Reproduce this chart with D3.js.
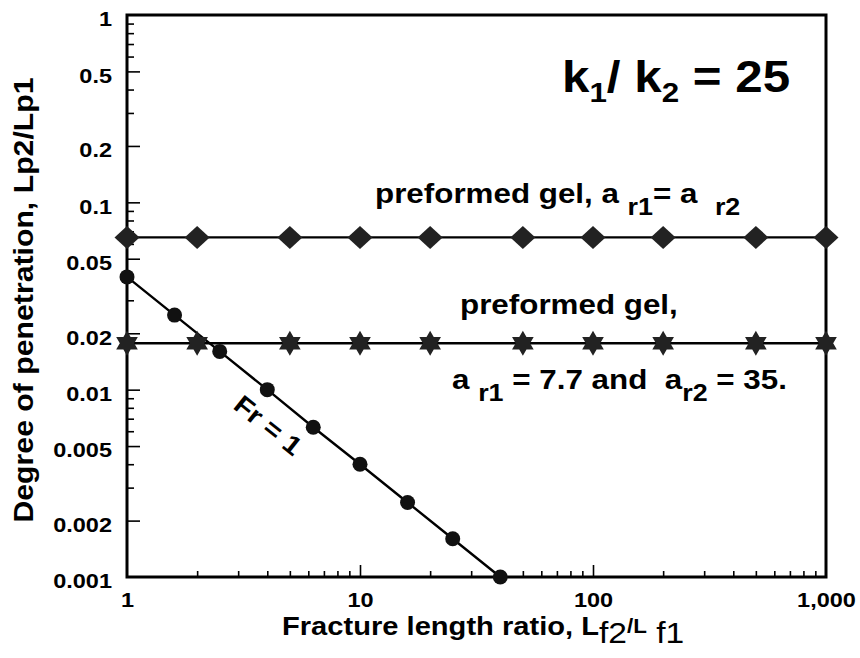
<!DOCTYPE html>
<html>
<head>
<meta charset="utf-8">
<script src="https://cdn.jsdelivr.net/npm/d3@7"></script>
<style>
  body { margin: 0; background: #fff; }
  svg { display: block; }
  text { font-family: "Liberation Sans", Arial, Helvetica, sans-serif; font-weight: bold; fill: #000; white-space: pre; }
</style>
</head>
<body>
<svg id="chart" width="860" height="658"></svg>
<script>
// Fracture length ratio for the preformed-gel cases
const gelRatios = [1, 2, 5, 10, 20, 50, 100, 200, 500, 1000];
// Degree of penetration, preformed gel with equal resistance factors
const gelEqualPen = [0.065, 0.065, 0.065, 0.065, 0.065, 0.065, 0.065, 0.065, 0.065, 0.065];
// Degree of penetration, preformed gel with a_r1 = 7.7 and a_r2 = 35
const gelUnequalPen = [0.0177, 0.0177, 0.0177, 0.0177, 0.0177, 0.0177, 0.0177, 0.0177, 0.0177, 0.0177];
// Fr = 1 case
const frRatios = [1, 1.6, 2.5, 4, 6.3, 10, 16, 25, 40];
const frPen = [0.04, 0.025, 0.016, 0.01, 0.0063, 0.004, 0.0025, 0.0016, 0.001];
// Axis tick labels
const yTickLabels = [1, 0.5, 0.2, 0.1, 0.05, 0.02, 0.01, 0.005, 0.002, 0.001];
const xTickLabels = [1, 10, 100, 1000];

const S = 1.12;            // horizontal text stretch
const svg = d3.select("#chart");
const box = { left: 127, right: 826, top: 15, bottom: 577 };

const x = d3.scaleLog().domain([1, 1000]).range([box.left, box.right]);
const y = d3.scaleLog().domain([0.001, 1]).range([box.bottom, box.top]);

// minor tick values on each decade
const key = v => +v.toPrecision(3);
const yLabelSet = new Set(yTickLabels.map(key));
const yMinor = [];
for (let k = -3; k <= -1; k++) for (let n = 1; n <= 9; n++) {
  const v = key(n * Math.pow(10, k));
  if (!yLabelSet.has(v)) yMinor.push(v);
}
const xMinor = [];
for (let k = 0; k <= 2; k++) for (let n = 2; n <= 9; n++) xMinor.push(key(n * Math.pow(10, k)));

// ---- inward tick marks ----
function ticks(axis, transform) {
  const g = svg.append("g").attr("transform", transform).call(axis);
  g.select(".domain").remove();
  g.selectAll("line").attr("stroke", "#000").attr("stroke-width", 1.6);
  g.selectAll("text").remove();
}
ticks(d3.axisRight(y).tickValues(yTickLabels.filter(v => v < 1 && v > 0.001)).tickSize(13), `translate(${box.left},0)`);
ticks(d3.axisRight(y).tickValues(yMinor).tickSize(7), `translate(${box.left},0)`);
ticks(d3.axisTop(x).tickValues([10, 100]).tickSize(12), `translate(0,${box.bottom})`);
ticks(d3.axisTop(x).tickValues(xMinor).tickSize(6), `translate(0,${box.bottom})`);

// ---- tick labels ----
const yl = svg.append("g").attr("transform", `translate(${box.left},0)`)
  .call(d3.axisLeft(y).tickValues(yTickLabels).tickSize(0).tickFormat(d => String(d)));
yl.select(".domain").remove();
yl.attr("font-family", null).attr("font-size", null);
yl.selectAll("text")
  .attr("x", -15 / S).attr("dy", "0.52em")
  .attr("transform", `scale(${S},1)`)
  .style("font-size", "21px");

const xl = svg.append("g").attr("transform", `translate(0,${box.bottom})`)
  .call(d3.axisBottom(x).tickValues(xTickLabels).tickSize(0).tickFormat(d3.format(",")));
xl.select(".domain").remove();
xl.attr("font-family", null).attr("font-size", null);
xl.selectAll("text")
  .attr("x", 0).attr("y", 15).attr("dy", "0.71em")
  .attr("transform", `scale(${S},1)`)
  .style("font-size", "21px");

// ---- frame ----
svg.append("rect")
  .attr("x", box.left).attr("y", box.top)
  .attr("width", box.right - box.left).attr("height", box.bottom - box.top)
  .attr("fill", "none").attr("stroke", "#000").attr("stroke-width", 3);

// ---- series lines ----
const line = d3.line().x(d => x(d[0])).y(d => y(d[1]));
const series = [
  { xs: gelRatios, ys: gelEqualPen, marker: "diamond" },
  { xs: gelRatios, ys: gelUnequalPen, marker: "hexagram" },
  { xs: frRatios, ys: frPen, marker: "circle" }
];
series.forEach(s => {
  svg.append("path")
    .attr("d", line(d3.zip(s.xs, s.ys)))
    .attr("fill", "none").attr("stroke", "#000").attr("stroke-width", 2.4);
});

// ---- markers ----
const markerPath = {
  diamond: "M-12.5,0L0,-11.5L12.5,0L0,11.5Z",
  hexagram: (() => {
    const R = 12.5, tri = a => d3.range(3).map(i => {
      const t = a + i * 2 * Math.PI / 3;
      return [R * Math.sin(t), -R * Math.cos(t)];
    });
    const p = pts => "M" + pts.map(q => q.join(",")).join("L") + "Z";
    return p(tri(0)) + p(tri(Math.PI));
  })()
};
series.forEach(s => {
  const pts = d3.zip(s.xs, s.ys);
  if (s.marker === "circle") {
    svg.append("g").selectAll("circle").data(pts).join("circle")
      .attr("cx", d => x(d[0])).attr("cy", d => y(d[1])).attr("r", 7.5)
      .attr("fill", "#111");
  } else {
    svg.append("g").selectAll("path").data(pts).join("path")
      .attr("transform", d => `translate(${x(d[0])},${y(d[1])})`)
      .attr("d", markerPath[s.marker])
      .attr("fill", "#222");
  }
});

// ---- text helper ----
function label(px, py, angle, parts, anchor) {
  const g = svg.append("g").attr("transform", `translate(${px},${py}) rotate(${angle}) scale(${S},1)`);
  const t = g.append("text").attr("text-anchor", anchor || "start");
  parts.forEach(p => {
    const ts = t.append("tspan").text(p.t).style("font-size", p.size + "px");
    if (p.dy) ts.attr("dy", p.dy);
    if (p.w) ts.style("font-weight", p.w);
  });
  return t;
}

// axis titles
label(33, 300, -90, [{ t: "Degree of penetration, Lp2/Lp1", size: 27 }], "middle");
label(282, 635, 0, [
  { t: "Fracture length ratio, L", size: 26 },
  { t: "f2", size: 30, dy: 8, w: "normal" },
  { t: "/L", size: 20, dy: -10 },
  { t: " f1", size: 30, dy: 10, w: "normal" }
]);

// annotations
label(562, 92, 0, [
  { t: "k", size: 44 },
  { t: "1", size: 28, dy: 10 },
  { t: "/ k", size: 44, dy: -10 },
  { t: "2", size: 28, dy: 10 },
  { t: " = 25", size: 44, dy: -10 }
]);
label(375, 203, 0, [
  { t: "preformed gel, a ", size: 28 },
  { t: "r1", size: 24, dy: 12 },
  { t: "= a  ", size: 28, dy: -12 },
  { t: "r2", size: 24, dy: 12 }
]);
label(460, 314, 0, [{ t: "preformed gel,", size: 28 }]);
label(452, 389, 0, [
  { t: "a ", size: 28 },
  { t: "r1", size: 24, dy: 12 },
  { t: " = 7.7 and  a", size: 28, dy: -12 },
  { t: "r2", size: 24, dy: 12 },
  { t: " = 35.", size: 28, dy: -12 }
]);
label(266, 428, 38.8, [{ t: "Fr = 1", size: 26 }], "middle").attr("dy", "0.35em");
</script>
</body>
</html>
